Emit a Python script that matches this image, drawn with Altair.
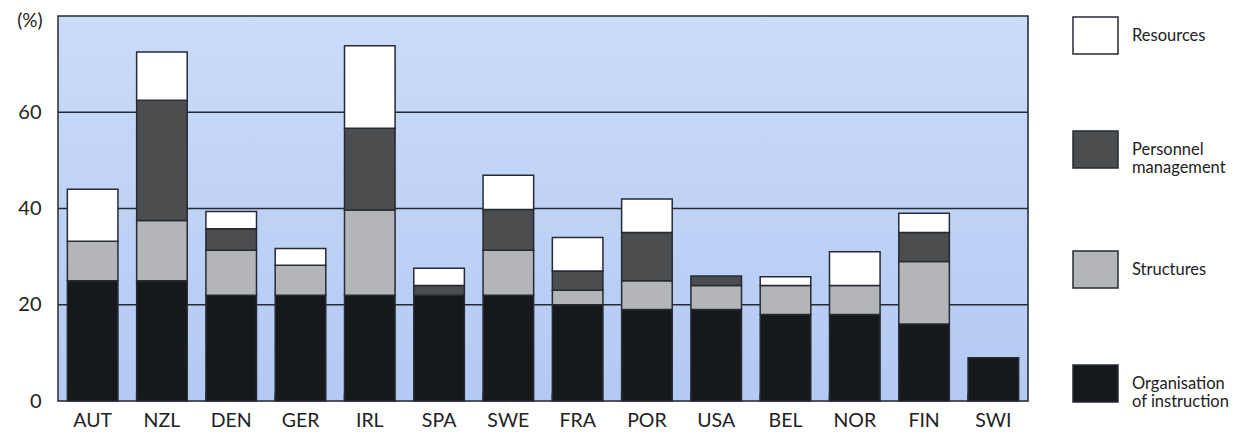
import altair as alt
import pandas as pd

countries = ["AUT", "NZL", "DEN", "GER", "IRL", "SPA", "SWE", "FRA", "POR", "USA", "BEL", "NOR", "FIN", "SWI"]
organisation = [25, 25, 22, 22, 22, 22, 22, 20, 19, 19, 18, 18, 16, 9]
structures = [8.2, 12.5, 9.3, 6.2, 17.7, 0, 9.3, 3, 6, 5, 6, 6, 13, 0]
personnel = [0, 25, 4.5, 0, 17, 2, 8.5, 4, 10, 2, 0, 0, 6, 0]
resources = [10.8, 10, 3.6, 3.5, 17.1, 3.6, 7.1, 7, 7, 0, 1.8, 7, 4, 0]

categories = ["Resources", "Personnel management", "Structures", "Organisation of instruction"]
cat_colors = ["#ffffff", "#4b4d4f", "#b3b5b8", "#16191c"]
grid_values = [20, 40, 60]

series = {
    "Organisation of instruction": organisation,
    "Structures": structures,
    "Personnel management": personnel,
    "Resources": resources,
}
stack_order = {"Organisation of instruction": 0, "Structures": 1, "Personnel management": 2, "Resources": 3}

rows = []
for cat, vals in series.items():
    for c, v in zip(countries, vals):
        if v > 0:
            rows.append({"country": c, "category": cat, "value": v, "ord": stack_order[cat]})
df = pd.DataFrame(rows)

W, H = 970, 385
FONT = "Lato"
LINE = "#262b33"
TXT = "#222222"

xscale = alt.Scale(domain=countries, paddingInner=0.27, paddingOuter=0.135)
yscale = alt.Scale(domain=[0, 80], nice=False)

bg = alt.Chart(pd.DataFrame({"a": [0]})).mark_rect(
    fill=alt.Gradient(
        gradient="linear",
        stops=[alt.GradientStop(color="#cbdcf9", offset=0), alt.GradientStop(color="#b4c9f3", offset=1)],
        x1=0, x2=0, y1=0, y2=1,
    ),
    stroke=LINE,
    strokeWidth=1.5,
).encode(x=alt.value(0), x2=alt.value(W), y=alt.value(0), y2=alt.value(H))

grid = alt.Chart(pd.DataFrame({"g": grid_values})).mark_rule(color=LINE, strokeWidth=1.5).encode(
    y=alt.Y("g:Q", scale=yscale)
)

bars = alt.Chart(df).mark_bar(stroke=LINE, strokeWidth=1.5).encode(
    x=alt.X("country:N", scale=xscale, sort=countries,
            axis=alt.Axis(title=None, labelAngle=0, ticks=False, domain=False,
                          labelFontSize=19.5, labelPadding=10, labelColor=TXT,
                          labelFont=FONT)),
    y=alt.Y("value:Q", stack="zero", scale=yscale,
            axis=alt.Axis(values=[0, 20, 40, 60], grid=False, ticks=False, domain=False,
                          title="(%)", titleAngle=0, titleAlign="right", titleBaseline="top",
                          titleX=-16, titleY=-5, titleFontSize=19, titleFontWeight="normal",
                          titleFont=FONT, titleColor=TXT,
                          labelFontSize=20, labelPadding=17, labelFont=FONT, labelColor=TXT)),
    color=alt.Color("category:N",
                    scale=alt.Scale(domain=categories, range=cat_colors),
                    legend=alt.Legend(
                        title=None, orient="none", legendX=1014, legendY=-4,
                        symbolType="M-1,-0.82L1,-0.82L1,0.82L-1,0.82Z",
                        symbolSize=2025, symbolStrokeColor=LINE, symbolStrokeWidth=1.5,
                        symbolOpacity=1,
                        labelFont=FONT, labelFontSize=16.5, labelColor=TXT,
                        labelOffset=13, rowPadding=69, padding=0,
                        labelLimit=200,
                        labelExpr="datum.label == 'Personnel management' ? ['Personnel', 'management'] : datum.label == 'Organisation of instruction' ? ['Organisation', 'of instruction'] : datum.label",
                    )),
    order=alt.Order("ord:Q"),
)

ticks = alt.Chart(pd.DataFrame({"country": countries[1:], "y0": [0] * 13, "y1": [1.6] * 13})).mark_rule(
    color=LINE, strokeWidth=1.5
).encode(
    x=alt.X("country:N", scale=xscale, sort=countries, bandPosition=0),
    y=alt.Y("y0:Q", scale=yscale),
    y2="y1:Q",
)

chart = alt.layer(bg, grid, bars, ticks).properties(
    width=W, height=H,
    autosize=alt.AutoSizeParams(type="none"),
    padding={"left": 50, "top": 8, "right": 201, "bottom": 30},
).configure_view(stroke=None).configure(background="white")

chart.save("out.html", embed_options={"renderer": "svg", "actions": False})
